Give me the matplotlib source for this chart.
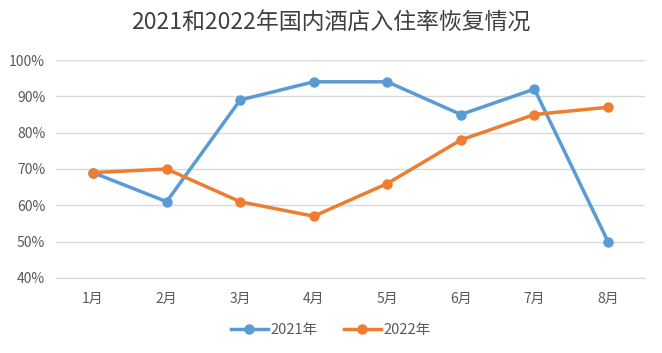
import matplotlib
matplotlib.use('agg')
import matplotlib.pyplot as plt
from matplotlib.ticker import PercentFormatter

plt.rcParams['font.family'] = ['Noto Sans CJK SC', 'DejaVu Sans']

months = ['1月', '2月', '3月', '4月', '5月', '6月', '7月', '8月']
rate_2021 = [69, 61, 89, 94, 94, 85, 92, 50]
rate_2022 = [69, 70, 61, 57, 66, 78, 85, 87]

fig = plt.figure(figsize=(6.62, 3.53), dpi=100)
ax = fig.add_axes([0.085, 0.2125, 0.889, 0.6175])

x = range(len(months))
ax.plot(x, rate_2021, color='#5B9BD5', lw=2.5, marker='o', ms=6.5, label='2021年')
ax.plot(x, rate_2022, color='#ED7D31', lw=2.5, marker='o', ms=6.5, label='2022年')

ax.set_xlim(-0.5, len(months) - 0.5)
ax.set_ylim(40, 100)
ax.set_yticks(range(40, 101, 10))
ax.yaxis.set_major_formatter(PercentFormatter(decimals=0))
ax.set_xticks(list(x))
ax.set_xticklabels(months)
ax.grid(axis='y', color='#D9D9D9', lw=1)
ax.set_axisbelow(True)
for s in ['top', 'right', 'left']:
    ax.spines[s].set_visible(False)
ax.spines['bottom'].set_color('#D9D9D9')
ax.tick_params(length=0, colors='#595959', labelsize=10)
ax.tick_params(axis='x', pad=10)
ax.tick_params(axis='y', pad=8)

fig.text(0.5, 0.935, '2021和2022年国内酒店入住率恢复情况', ha='center', va='center',
         fontsize=16.5, color='#404040', fontweight='medium')
fig.legend(loc='center', bbox_to_anchor=(0.5, 0.065), ncol=2, frameon=False,
           fontsize=10.5, labelcolor='#595959', handlelength=2.5, columnspacing=1.8, handletextpad=0.2)

plt.savefig('out.png', dpi=100)
